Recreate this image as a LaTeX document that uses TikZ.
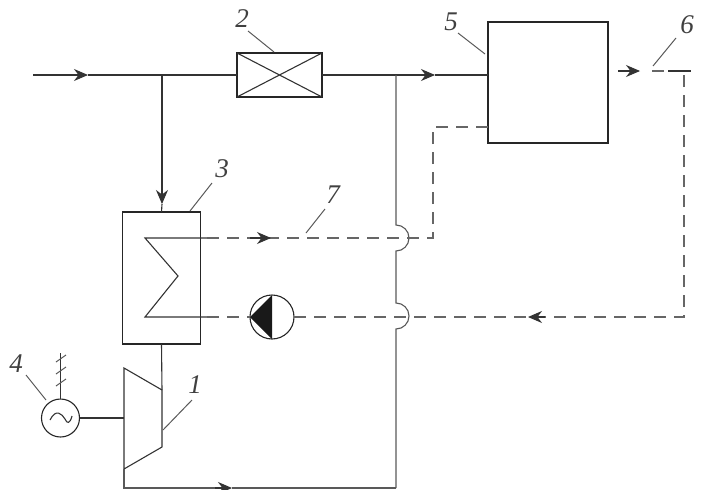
\documentclass[tikz,border=0pt]{standalone}
\usepackage{fontspec}
\setmainfont{Liberation Serif}
\usetikzlibrary{arrows.meta}
\tikzset{
  pipe/.style={line width=1.1pt, draw=black!80},
  greypipe/.style={line width=1.1pt, draw=black!65},
  steam/.style={line width=1.1pt, draw=black!60, dash pattern=on 12pt off 8pt},
  flowtip/.style={pipe, -{Stealth[length=14pt,width=12pt]}},
  unit/.style={draw=black!85, line width=1.1pt, inner sep=0pt, outer sep=0pt},
  leader/.style={line width=1pt, draw=black!65},
  numlabel/.style={font=\fontsize{27}{27}\selectfont\itshape, text=black!75, inner sep=0pt}
}
\begin{document}
\begin{tikzpicture}[x=1pt,y=-1pt]
\useasboundingbox (0,0) rectangle (702,490);
% apparatus
\node[unit, minimum width=85pt, minimum height=44pt] (valve) at (279.5,75) {};
\node[unit, minimum width=120pt, minimum height=121pt] (boiler) at (548,82.5) {};
\node[unit, minimum width=78pt, minimum height=132pt] (exchanger) at (161.5,278) {};
\node[unit, circle, minimum size=44pt] (pump) at (272,317) {};
\node[unit, circle, minimum size=38pt] (generator) at (60.5,418) {};
\draw[pipe] (valve.north west) -- (valve.south east);
\draw[pipe] (valve.south west) -- (valve.north east);
\fill[black!90] (pump.west) -- (pump.north) -- (pump.south) -- cycle;
\draw[pipe] (50,420) .. controls (56,408) and (62,414) .. (65,419) .. controls (67,424) and (70,424) .. (72,416);
% turbine
\coordinate (t1) at (124,368);
\coordinate (t2) at (162,390);
\coordinate (t3) at (162,447);
\coordinate (t4) at (124,469);
\draw[pipe] (t1) -- (t2) -- (t3) -- (t4) -- cycle;
% main line
\coordinate (inlet) at (33,75);
\coordinate (split) at (162,75);
\coordinate (tee) at (396,75);
\draw[flowtip] (inlet) -- (88,75);
\draw[pipe] (88,75) -- (valve.west);
\draw[pipe] (valve.east) -- (tee);
\draw[flowtip] (tee) -- (435,75);
\draw[pipe] (435,75) -- (488,75);
\draw[flowtip] (split) -- (162,204);
\draw[pipe] (162,204) -- (exchanger.north);
\draw[pipe] (exchanger.south) -- (t2);
\draw[pipe] (generator.east) -- (124,418);
% return line
\coordinate (corner) at (124,488);
\coordinate (bottom) at (396,488);
\draw[greypipe] (t4) -- (corner) -- (215,488);
\draw[flowtip] (215,488) -- (232,488);
\draw[greypipe] (232,488) -- (bottom);
\coordinate (hopa) at (396,225);
\coordinate (hopc) at (396,303);
\draw[greypipe] (tee) -- (hopa) arc[start angle=-90,end angle=90,radius=13] -- (hopc)
  arc[start angle=-90,end angle=90,radius=13] -- (bottom);
% coil
\coordinate (c1) at (145,238);
\coordinate (c2) at (178,276);
\coordinate (c3) at (145,317);
\draw[pipe] (207,238) -- (c1) -- (c2) -- (c3) -- (207,317);
% water circuit
\draw[steam] (207,238) -- (433,238) -- (433,127) -- (boiler.west |- 0,127);
\draw[flowtip] (250,238) -- (271,238);
\draw[steam] (207,317) -- (pump.west);
\draw[steam] (pump.east) -- (684,317) -- (684,71);
\draw[flowtip] (545,317) -- (528,317);
\draw[flowtip] (618,71) -- (640,71);
\draw[steam] (652,71) -- (668,71);
\draw[pipe] (668,71) -- (691,71);
% grid connection
\coordinate (grid) at (60.5,353);
\draw[pipe] (generator.north) -- (grid);
\foreach \y in {362,374,386} {
  \draw[leader] (56,\y) -- (66,\y-7);
}
% labels
\node[numlabel] (n1) at (195,385) {1};
\node[numlabel] (n2) at (242,19) {2};
\node[numlabel] (n3) at (222,169) {3};
\node[numlabel] (n4) at (16,364) {4};
\node[numlabel] (n5) at (451,22) {5};
\node[numlabel] (n6) at (687,25) {6};
\node[numlabel] (n7) at (333,195) {7};
\draw[leader] (192,400) -- (163,430);
\draw[leader] (248,31) -- (274,52);
\draw[leader] (212,183) -- (190,211);
\draw[leader] (26,375) -- (46,400);
\draw[leader] (458,33) -- (485,54);
\draw[leader] (676,38) -- (653,66);
\draw[leader] (325,209) -- (306,233);
\end{tikzpicture}
\end{document}
